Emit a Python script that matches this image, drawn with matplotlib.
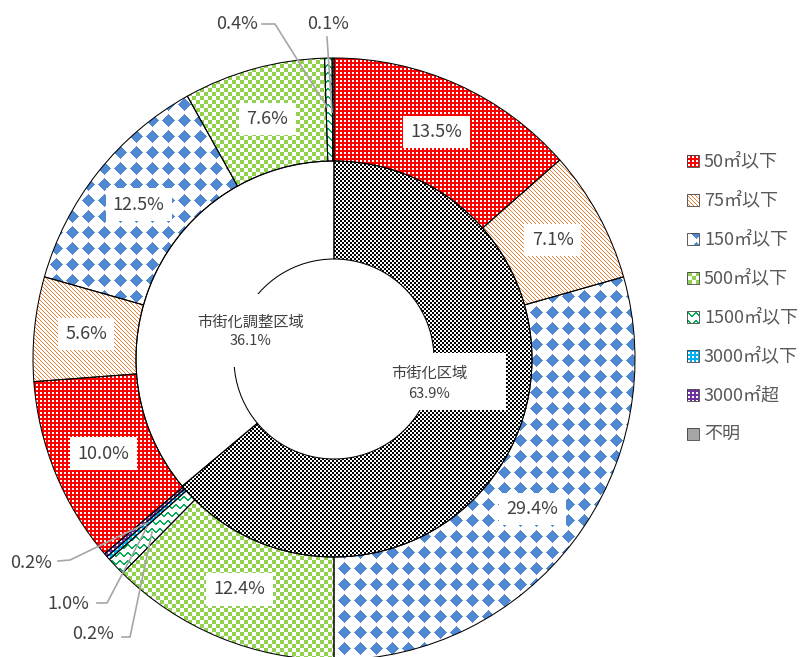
import numpy as np
import matplotlib
matplotlib.use('Agg')
import matplotlib.pyplot as plt
from matplotlib.patches import Rectangle

plt.rcParams['font.family'] = ['Noto Sans CJK JP', 'DejaVu Sans']

W, H = 809, 657

# data
categories = ['50㎡以下', '75㎡以下', '150㎡以下', '500㎡以下',
              '1500㎡以下', '3000㎡以下', '3000㎡超', '不明']
areas = ['市街化区域', '市街化調整区域']
area_share = [63.9, 36.1]
outer_vals = [13.5, 7.1, 29.4, 12.4, 1.0, 0.2, 0.2,
              10.0, 5.6, 12.5, 7.6, 0.4, 0.1]
outer_cats = [0, 1, 2, 3, 4, 5, 6,
              0, 1, 2, 3, 4, 5]


def tex(mask, fg, bg=(255, 255, 255)):
    mask = np.asarray(mask, dtype=bool)
    th, tw = mask.shape
    img = np.where(mask[..., None], np.array(fg) / 255., np.array(bg) / 255.)
    return np.tile(img, (H // th + 2, W // tw + 2, 1))[:H, :W]


r4, c4 = np.mgrid[0:4, 0:4]
r8, c8 = np.mgrid[0:8, 0:8]
r16, c16 = np.mgrid[0:16, 0:16]
d = abs(r16 - 8) + abs(c16 - 8)
diamond = (d <= 6) | ((r16 == 8) & (abs(c16 - 8) <= 6)) | ((c16 == 8) & (abs(r16 - 8) <= 6))
tri = np.array([0, 1, 2, 3, 3, 2, 1, 0])
zig = (r8 == tri[c8]) | (r8 == tri[c8] + 1)

textures = [
    tex(~((r4 < 2) & (c4 < 2)), (255, 0, 0)),
    tex((c4 - r4) % 4 == 0, (237, 125, 49)),
    tex(diamond, (80, 136, 210)),
    tex(((r8 // 4) + (c8 // 4)) % 2 == 0, (146, 208, 80)),
    tex(zig, (0, 176, 80)),
    tex(~((r4 < 2) & (c4 < 2)), (0, 176, 240)),
    tex(~((r4 < 2) & (c4 < 2)), (112, 48, 160)),
    tex(np.ones((4, 4)), (165, 165, 165)),
]
inner_tex = [tex(((r4 // 2) + (c4 // 2)) % 2 == 0, (0, 0, 0)),
             tex(np.zeros((4, 4)), (0, 0, 0))]

fig = plt.figure(figsize=(W / 100, H / 100), dpi=100)
ax = fig.add_axes([0, 0, 1, 1])

cx, cy = 334, H - 359
R = 301

w_out, _ = ax.pie(outer_vals, radius=R, center=(cx, cy), startangle=90,
                  counterclock=False, colors=['none'] * len(outer_vals),
                  wedgeprops=dict(width=103, edgecolor='black', linewidth=0.75))
w_in, _ = ax.pie(area_share, radius=198, center=(cx, cy), startangle=90,
                 counterclock=False, colors=['none'] * 2,
                 wedgeprops=dict(width=98, edgecolor='black', linewidth=0.75))

for w, k in zip(w_out, outer_cats):
    im = ax.imshow(textures[k], extent=(0, W, 0, H), origin='upper',
                   interpolation='nearest', zorder=1)
    im.set_clip_path(w)
    w.set_zorder(3)
for w, t in zip(w_in, inner_tex):
    im = ax.imshow(t, extent=(0, W, 0, H), origin='upper',
                   interpolation='nearest', zorder=1)
    im.set_clip_path(w)
    w.set_zorder(3)

ax.set_xlim(0, W)
ax.set_ylim(0, H)
ax.axis('off')

lab_col = '#404040'

# labels for the larger slices
for w, v in zip(w_out, outer_vals):
    if v < 5:
        continue
    th = np.deg2rad((w.theta1 + w.theta2) / 2)
    x = cx + 249 * np.cos(th)
    y = cy + 249 * np.sin(th)
    ax.text(x, y, f'{v:.1f}%', ha='center', va='center', fontsize=13,
            color=lab_col, zorder=5,
            bbox=dict(boxstyle='square,pad=0.4', facecolor='white', edgecolor='none'))

# leader labels (image coordinates)
def Y(y):
    return H - y

leaders = [
    ('0.4%', (237, 24), [(262, 24), (275, 24), (327, 107)]),
    ('0.1%', (328, 24), [(327, 37), (332, 112)]),
    ('0.2%', (31, 563), [(58, 561), (70, 560), (147, 523)]),
    ('1.0%', (68, 604), [(97, 603), (107, 603), (147, 527)]),
    ('0.2%', (93, 634), [(122, 637), (130, 637), (152, 532)]),
]
for txt, (tx, ty), pts in leaders:
    xs = [p[0] for p in pts]
    ys = [Y(p[1]) for p in pts]
    ax.plot(xs, ys, color='#a6a6a6', lw=1.2, zorder=4)
    ax.text(tx, Y(ty), txt, ha='center', va='center', fontsize=13,
            color=lab_col, zorder=5)

# inner labels
ax.add_patch(Rectangle((352, Y(410)), 154, 57, facecolor='white',
                       edgecolor='none', zorder=4))
ax.add_patch(Rectangle((190, Y(367)), 122, 73, facecolor='white',
                       edgecolor='none', zorder=4))
ax.text(429, Y(373), areas[0], ha='center', va='center', fontsize=11,
        color=lab_col, zorder=5)
ax.text(429, Y(394), f'{area_share[0]:.1f}%', ha='center', va='center',
        fontsize=10.5, color=lab_col, zorder=5)
ax.text(251, Y(322), areas[1], ha='center', va='center', fontsize=11,
        color=lab_col, zorder=5)
ax.text(251, Y(341), f'{area_share[1]:.1f}%', ha='center', va='center',
        fontsize=10.5, color=lab_col, zorder=5)

# legend
ly = 161
for k, name in enumerate(categories):
    yy = Y(ly + k * 39.0)
    rect = Rectangle((687, yy - 6), 12, 12, facecolor='none',
                     edgecolor='#404040', linewidth=0.6, zorder=4)
    ax.add_patch(rect)
    im = ax.imshow(textures[k], extent=(0, W, 0, H), origin='upper',
                   interpolation='nearest', zorder=2)
    im.set_clip_path(rect)
    ax.text(704, yy, name, ha='left', va='center', fontsize=13,
            color='#595959', zorder=5)

ax.set_xlim(0, W)
ax.set_ylim(0, H)
fig.savefig('out.png', dpi=100)
